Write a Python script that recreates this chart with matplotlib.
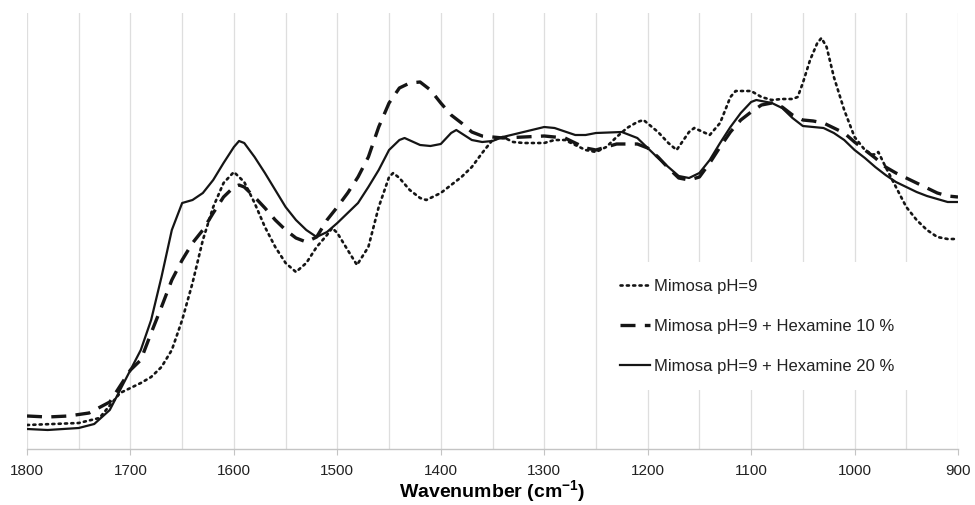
import matplotlib
matplotlib.use("Agg")
import matplotlib.pyplot as plt

plt.rcParams['font.family'] = ['Liberation Sans', 'DejaVu Sans']
plt.rcParams['mathtext.fontset'] = 'custom'
plt.rcParams['mathtext.rm'] = 'Liberation Sans'
plt.rcParams['mathtext.bf'] = 'Liberation Sans:bold'

# FTIR spectra, absorbance in arbitrary units
wn_plain = [1800, 1750, 1730, 1710, 1700, 1690, 1680, 1670, 1660, 1650, 1640, 1630,
            1620, 1610, 1600, 1590, 1580, 1570, 1560, 1550, 1540, 1530, 1520, 1510,
            1505, 1500, 1490, 1481, 1470, 1460, 1450, 1446, 1440, 1430, 1420, 1414,
            1400, 1390, 1380, 1370, 1360, 1350, 1340, 1330, 1320, 1300, 1290, 1280,
            1270, 1260, 1250, 1240, 1230, 1220, 1210, 1204, 1190, 1180, 1172, 1160,
            1155, 1140, 1130, 1120, 1115, 1100, 1090, 1080, 1070, 1060, 1055, 1050,
            1043, 1036, 1032, 1027, 1020, 1010, 1000, 990, 982, 977, 970, 960, 950,
            940, 930, 920, 910, 900]
abs_plain = [24, 26, 31, 56, 61, 66, 72, 82, 99, 129, 166, 209,
             242, 266, 277, 267, 246, 222, 202, 186, 177, 186, 202, 214,
             221, 216, 199, 184, 202, 242, 272, 276, 271, 259, 251, 249,
             256, 264, 272, 282, 296, 309, 312, 307, 306, 306, 309, 309,
             304, 299, 297, 302, 312, 321, 327, 329, 317, 306, 299, 317,
             321, 314, 326, 352, 358, 358, 352, 349, 350, 350, 352, 366,
             389, 406, 411, 402, 372, 339, 312, 299, 294, 297, 282, 262, 242,
             229, 219, 212, 210, 210]

wn_hex10 = [1800, 1780, 1760, 1740, 1720, 1700, 1690, 1680, 1670, 1660, 1650, 1640,
            1630, 1620, 1610, 1600, 1595, 1590, 1580, 1570, 1560, 1550, 1540, 1530,
            1520, 1510, 1500, 1490, 1480, 1470, 1460, 1450, 1440, 1430, 1420, 1410,
            1400, 1390, 1380, 1370, 1360, 1350, 1340, 1320, 1300, 1280, 1270, 1260,
            1250, 1240, 1230, 1210, 1200, 1190, 1180, 1170, 1160, 1150, 1140, 1130,
            1120, 1110, 1100, 1090, 1080, 1070, 1060, 1050, 1040, 1030, 1020, 1010,
            1000, 990, 980, 970, 960, 950, 940, 930, 920, 910, 900]
abs_hex10 = [33, 32, 33, 36, 47, 79, 89, 116, 142, 169, 189, 206,
             219, 236, 252, 262, 264, 262, 252, 241, 229, 219, 211, 207,
             212, 229, 242, 256, 272, 292, 322, 346, 361, 366, 367, 359,
             346, 334, 326, 317, 313, 312, 311, 312, 313, 311, 306, 301,
             299, 302, 305, 305, 301, 292, 281, 271, 269, 272, 286, 302,
             317, 329, 337, 344, 346, 342, 334, 329, 328, 326, 321, 316,
             307, 299, 291, 282, 276, 271, 266, 261, 256, 253, 252]

wn_hex20 = [1800, 1780, 1750, 1735, 1720, 1700, 1690, 1680, 1670, 1660, 1650, 1640,
            1630, 1620, 1610, 1600, 1595, 1590, 1580, 1570, 1560, 1550, 1540, 1530,
            1520, 1510, 1500, 1490, 1480, 1470, 1460, 1450, 1440, 1435, 1420, 1410,
            1400, 1390, 1385, 1370, 1360, 1350, 1340, 1320, 1300, 1290, 1270, 1260,
            1250, 1225, 1210, 1200, 1190, 1180, 1170, 1160, 1150, 1140, 1130, 1120,
            1110, 1100, 1095, 1080, 1070, 1060, 1050, 1040, 1030, 1020, 1010, 1000,
            990, 980, 970, 960, 950, 940, 930, 920, 910, 900]
abs_hex20 = [20, 19, 21, 25, 39, 79, 99, 129, 172, 219, 246, 249,
             256, 269, 286, 302, 308, 306, 292, 276, 259, 242, 229, 219,
             212, 217, 226, 236, 246, 262, 279, 299, 309, 311, 304, 303,
             305, 316, 319, 309, 307, 308, 312, 317, 322, 321, 314, 314,
             316, 317, 311, 301, 291, 282, 273, 271, 276, 289, 306, 322,
             336, 347, 349, 346, 341, 331, 323, 322, 321, 316, 309, 299,
             291, 282, 274, 267, 262, 257, 253, 250, 247, 247]

labels = ['Mimosa pH=9',
          'Mimosa pH=9 + Hexamine 10 %',
          'Mimosa pH=9 + Hexamine 20 %']

fig = plt.figure(figsize=(9.75, 5.05), dpi=100)
ax = fig.add_axes([27 / 975, 56 / 505, 931 / 975, 436 / 505])

ax.plot(wn_plain, abs_plain, color='#151515', linewidth=1.9,
        linestyle=(0, (0.8, 1.6)), dash_capstyle='round', label=labels[0])
ax.plot(wn_hex10, abs_hex10, color='#151515', linewidth=2.4,
        linestyle=(0, (4.5, 2.8)), label=labels[1])
ax.plot(wn_hex20, abs_hex20, color='#151515', linewidth=1.6,
        linestyle='-', label=labels[2])

ax.set_xlim(1800, 900)
ax.set_ylim(0, 436)
ax.set_xticks(range(1800, 899, -100))
ax.set_xticks(range(1750, 900, -100), minor=True)
ax.set_yticks([])
ax.grid(True, axis='x', which='both', color='#dedede', linewidth=0.9)
ax.set_axisbelow(True)

for side in ['top', 'left', 'right']:
    ax.spines[side].set_visible(False)
ax.spines['bottom'].set_color('#c4c4c4')
ax.spines['bottom'].set_linewidth(1.0)
ax.tick_params(axis='x', which='major', length=4, color='#c4c4c4',
               labelsize=11, labelcolor='#222222', pad=7)
ax.tick_params(axis='x', which='minor', length=0)

ax.set_xlabel(r'Wavenumber (cm$^{\mathbf{-1}}$)', fontsize=14,
              fontweight='bold', labelpad=0)

leg = ax.legend(loc='upper left', bbox_to_anchor=(603 / 975, 1 - 262 / 505),
                bbox_transform=fig.transFigure, fontsize=12, frameon=True,
                framealpha=1, facecolor='white', edgecolor='none',
                fancybox=False, borderpad=1.0, borderaxespad=0,
                handlelength=1.8, handletextpad=0.25, labelspacing=1.5)
for t in leg.get_texts():
    t.set_color('#222222')

fig.savefig('out.png', dpi=100)
